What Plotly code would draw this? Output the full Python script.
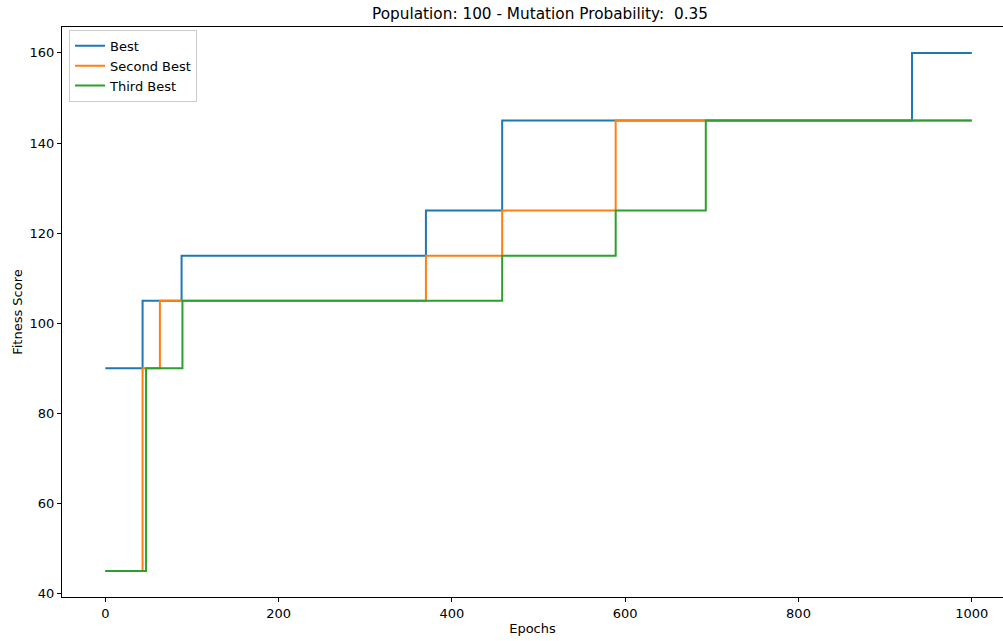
import plotly.graph_objects as go

# Data (step change points)
best_epochs = [0, 43, 88, 370, 458, 931, 1000]
best_scores = [90, 105, 115, 125, 145, 160, 160]

second_epochs = [0, 43, 63, 370, 458, 589, 1000]
second_scores = [45, 90, 105, 115, 125, 145, 145]

third_epochs = [0, 47, 89, 458, 589, 693, 1000]
third_scores = [45, 90, 105, 115, 125, 145, 145]

series_names = ["Best", "Second Best", "Third Best"]
series_colors = ["#1f77b4", "#ff7f0e", "#2ca02c"]

x_ticks = [0, 200, 400, 600, 800, 1000]
y_ticks = [40, 60, 80, 100, 120, 140, 160]

fig = go.Figure()
for name, xs, ys, c in zip(series_names,
                           [best_epochs, second_epochs, third_epochs],
                           [best_scores, second_scores, third_scores],
                           series_colors):
    fig.add_trace(go.Scatter(x=xs, y=ys, mode="lines", name=name,
                             line=dict(color=c, width=2, shape="hv")))

font_family = "DejaVu Sans"
fig.update_layout(
    width=1003, height=641,
    margin=dict(l=62, r=0, t=27, b=44),
    plot_bgcolor="white", paper_bgcolor="white",
    font=dict(family=font_family, size=13, color="black"),
    title=dict(text="Population: 100 - Mutation Probability:  0.35",
               x=540 / 1003, xref="container", xanchor="center",
               y=1 - 14 / 641, yref="container", yanchor="middle",
               font=dict(family=font_family, size=15.3, color="black")),
    showlegend=True,
    legend=dict(x=0.0075, y=0.995, xanchor="left", yanchor="top",
                bgcolor="rgba(255,255,255,0.8)", bordercolor="#cccccc",
                borderwidth=1, font=dict(family=font_family, size=13, color="black"),
                tracegroupgap=0, itemwidth=30),
)
fig.update_xaxes(range=[-50, 1036], tickvals=x_ticks, ticktext=[str(v) for v in x_ticks],
                 showgrid=False, zeroline=False, showline=True, linecolor="black",
                 linewidth=1, mirror=True, ticks="outside", ticklen=4, tickcolor="black",
                 automargin=False,
                 title=dict(text="Epochs", standoff=4,
                            font=dict(family=font_family, size=13, color="black")))
fig.update_yaxes(range=[39.25, 165.75], tickvals=y_ticks, ticktext=[str(v) for v in y_ticks],
                 showgrid=False, zeroline=False, showline=True, linecolor="black",
                 linewidth=1, mirror=False, ticks="outside", ticklen=4, tickcolor="black",
                 automargin=False,
                 title=dict(text="Fitness Score", standoff=4,
                            font=dict(family=font_family, size=13, color="black")))

fig.write_html("out.html", config={"displayModeBar": False},
               post_script="document.body.style.margin='0';")
